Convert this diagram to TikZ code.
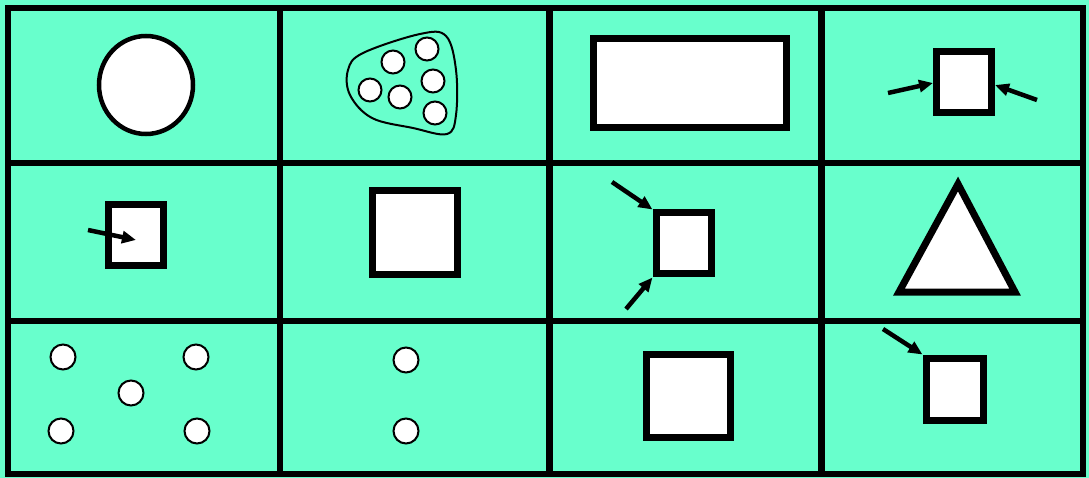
\documentclass[tikz,border=0pt]{standalone}
\usetikzlibrary{arrows.meta}
\definecolor{mint}{RGB}{104,255,204}
\begin{document}
\begin{tikzpicture}[x=1pt,y=-1pt,
  gridline/.style={line width=6.5pt,line cap=rect},
  box/.style={draw=black,fill=white,line width=7pt,inner sep=0pt,shape=rectangle},
  dot/.style={draw=black,fill=white,line width=2pt,shape=circle,inner sep=0pt,minimum size=25pt},
  smalldot/.style={dot,minimum size=23pt},
  arr/.style={line width=4.5pt,-{Triangle[length=14pt,width=12pt]}}]
\useasboundingbox (0,0) rectangle (1089,478);
\fill[mint] (0,0) rectangle (1089,478);
% grid
\draw[gridline] (8,8) rectangle (1083,474);
\draw[gridline] (280,8) -- (280,474);
\draw[gridline] (549.5,8) -- (549.5,474);
\draw[gridline] (821.5,8) -- (821.5,474);
\draw[gridline] (8,163) -- (1083,163);
\draw[gridline] (8,321) -- (1083,321);
% cell 1: big circle
\draw[line width=4.5pt,fill=white] (146,85) ellipse [x radius=47, y radius=49];
% cell 2: blob with six small circles
\draw[line width=2pt] plot[smooth cycle,tension=0.6] coordinates
  {(348,70) (363,53) (420,34) (446,36) (456,70) (456,115) (447,134) (413,128) (372,118) (350,95)};
\node[smalldot] (b1) at (393,62) {};
\node[smalldot] (b2) at (427,49) {};
\node[smalldot] (b3) at (370,90) {};
\node[smalldot] (b4) at (400,97) {};
\node[smalldot] (b5) at (433,81) {};
\node[smalldot] (b6) at (435,113) {};
% cell 3: wide rectangle
\node[box,minimum width=193pt,minimum height=89pt] (r3) at (689.5,83.5) {};
% cell 4: square with two arrows
\node[box,minimum width=55pt,minimum height=61pt] (sq4) at (964,82) {};
\coordinate (t4a) at (888,93);
\coordinate (t4b) at (1037,100);
\draw[arr] (t4a) -- ([yshift=-1pt]sq4.west);
\draw[arr] (t4b) -- ([yshift=-3pt]sq4.east);
% cell 5: square with arrow into it
\node[box,minimum width=55pt,minimum height=61pt] (sq5) at (135.5,235.5) {};
\coordinate (t5) at (88,230);
\coordinate (h5) at (136,240);
\draw[arr] (t5) -- (h5);
% cell 6: big square
\node[box,minimum width=85pt,minimum height=84pt] (sq6) at (414.5,233) {};
% cell 7: square with two arrows at left corners
\node[box,minimum width=55pt,minimum height=61pt] (sq7) at (683.5,243.5) {};
\coordinate (t7a) at (612,182);
\coordinate (t7b) at (626,309);
\draw[arr] (t7a) -- (sq7.north west);
\draw[arr] (t7b) -- (sq7.south west);
% cell 8: triangle
\draw[line width=7pt,fill=white,line join=miter] (958,184) -- (1015,292) -- (899,292) -- cycle;
% cell 9: five small circles
\node[dot] (c1) at (63,357) {};
\node[dot] (c2) at (196,357) {};
\node[dot] (c3) at (131,393) {};
\node[dot] (c4) at (61,431) {};
\node[dot] (c5) at (197,431) {};
% cell 10: two small circles
\node[dot] (d1) at (406,360) {};
\node[dot] (d2) at (406,431) {};
% cell 11: big square
\node[box,minimum width=84pt,minimum height=83pt] (sq11) at (688,395.5) {};
% cell 12: square with arrow at top-left corner
\node[box,minimum width=57pt,minimum height=62pt] (sq12) at (954.5,389) {};
\coordinate (t12) at (883,329);
\draw[arr] (t12) -- (sq12.north west);
\end{tikzpicture}
\end{document}
